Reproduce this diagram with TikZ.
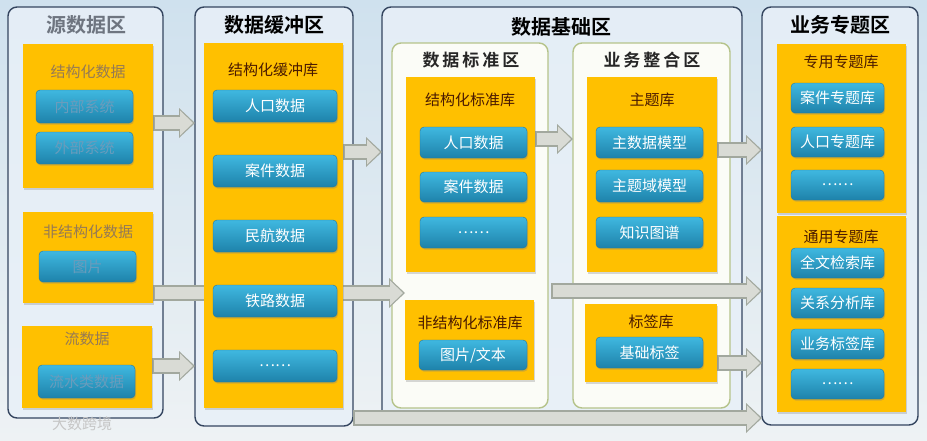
\documentclass[tikz,border=0pt]{standalone}
\usepackage{fontspec}
\setmainfont{Noto Sans CJK SC}[BoldFont={Noto Sans CJK SC Bold}]
\usetikzlibrary{arrows.meta,shadows}
\definecolor{bgtop}{HTML}{CFE1EE}
\definecolor{bgbot}{HTML}{EEF2F4}
\definecolor{zoneline}{HTML}{34455F}
\definecolor{zonefill}{HTML}{E8F0F8}
\definecolor{subline}{HTML}{B5C38A}
\definecolor{subfill}{HTML}{FBFCF7}
\definecolor{yel}{HTML}{FFC000}
\definecolor{ytext}{HTML}{4A1A00}
\definecolor{ytextfaint}{HTML}{957A55}
\definecolor{btntop}{HTML}{3FB8E0}
\definecolor{btnbot}{HTML}{1E82AA}
\definecolor{btnline}{HTML}{2277A0}
\definecolor{btnfaint}{HTML}{6A9CBC}
\definecolor{arrfill}{HTML}{D9DBD5}
\definecolor{arredge}{HTML}{A2A89E}
\definecolor{ztfaint}{HTML}{6E7580}
\pgfdeclarelayer{bg}
\pgfdeclarelayer{arr}
\pgfsetlayers{bg,arr,main}
\newcommand\bx[7]{%
  \pgfmathsetmacro\bxw{#5-#3}\pgfmathsetmacro\bxh{#6-#4}%
  \node[#1,anchor=north west,minimum width=\bxw pt,minimum height=\bxh pt] (#2) at (#3,#4) {#7};}
\begin{document}
\begin{tikzpicture}[x=1pt,y=-1pt,
  zone/.style={draw=zoneline,line width=1.4pt,rounded corners=9pt,fill=zonefill,fill opacity=0.85,inner sep=0pt,outer sep=0pt},
  subzone/.style={draw=subline,line width=1.4pt,rounded corners=9pt,fill=subfill,inner sep=0pt,outer sep=0pt},
  ybox/.style={fill=yel,inner sep=0pt,outer sep=0pt,drop shadow={opacity=0.3,shadow xshift=1.2pt,shadow yshift=-1.6pt}},
  btn/.style={rounded corners=4pt,top color=btntop,bottom color=btnbot,draw=btnline,line width=0.4pt,text=white,
    font=\fontsize{15}{15}\selectfont,inner sep=0pt,outer sep=0pt,drop shadow={opacity=0.35,shadow xshift=1pt,shadow yshift=-1.6pt}},
  btnf/.style={btn,text=btnfaint},
  ztitle/.style={font=\bfseries\fontsize{20}{20}\selectfont,text=black,inner sep=0pt},
  stitle/.style={font=\bfseries\fontsize{17}{17}\selectfont,text=black!85,inner sep=0pt},
  ytitle/.style={font=\fontsize{15}{15}\selectfont,text=ytext,inner sep=0pt},
  ytitlef/.style={ytitle,text=ytextfaint},
  blk/.style={line width=16pt,draw=arredge,-{Triangle[width=30pt,length=16pt,line width=0pt]},
    postaction={draw=arrfill,line width=12.5pt,-{Triangle[width=25pt,length=13pt,line width=0pt]},shorten >=2pt,shorten <=1.6pt}}
]
\useasboundingbox (0,0) rectangle (927,440);
\begin{pgfonlayer}{bg}
  \fill[top color=bgtop,bottom color=bgbot] (0,0) rectangle (927,440);
  \bx{zone}{z1}{8}{7}{163}{418}{}
  \bx{zone}{z2}{195}{7}{353}{426}{}
  \bx{zone}{z3}{382}{7}{742}{424}{}
  \bx{zone}{z4}{762}{7}{918}{425}{}
  \bx{subzone}{s1}{392}{43}{548}{408}{}
  \bx{subzone}{s2}{573}{43}{730}{408}{}
\end{pgfonlayer}

% zone titles
\node[ztitle,text=ztfaint] (t1) at (86,25) {源数据区};
\node[ztitle] (t2) at (274,25) {数据缓冲区};
\node[ztitle] (t3) at (561,27) {数据基础区};
\node[ztitle] (t4) at (840,25) {业务专题区};
\node[stitle] (st1) at (471,60) {数\hspace{3pt}据\hspace{3pt}标\hspace{3pt}准\hspace{3pt}区};
\node[stitle] (st2) at (652,60) {业\hspace{3pt}务\hspace{3pt}整\hspace{3pt}合\hspace{3pt}区};

% zone 1
\bx{ybox}{y11}{23}{44}{153}{188}{}
\bx{ybox}{y12}{23}{212}{153}{303}{}
\bx{ybox}{y13}{22}{326}{152}{408}{}
\node[ytitlef] (ty11) at (88,72) {结构化数据};
\node[ytitlef] (ty12) at (88,232) {非结构化数据};
\node[ytitlef] (ty13) at (87,339) {流数据};
\bx{btnf}{b11}{36}{90}{133}{123}{内部系统}
\bx{btnf}{b12}{36}{132}{133}{164}{外部系统}
\bx{btnf}{b13}{39}{251}{136}{282}{图片}
\bx{btnf}{b14}{38}{365}{135}{398}{流水类数据}

% zone 2
\bx{ybox}{y21}{204}{43}{343}{408}{}
\node[ytitle] (ty21) at (273,70) {结构化缓冲库};
\bx{btn}{b21}{213}{90}{337}{122}{人口数据}
\bx{btn}{b22}{213}{155}{337}{187}{案件数据}
\bx{btn}{b23}{213}{220}{337}{252}{民航数据}
\bx{btn}{b24}{213}{285}{337}{317}{铁路数据}
\bx{btn}{b25}{213}{350}{337}{382}{……}

% zone 3
\bx{ybox}{y31}{406}{77}{535}{272}{}
\bx{ybox}{y32}{405}{300}{534}{380}{}
\bx{ybox}{y33}{587}{77}{717}{272}{}
\bx{ybox}{y34}{585}{304}{717}{382}{}
\node[ytitle] (ty31) at (470,100) {结构化标准库};
\node[ytitle] (ty32) at (470,323) {非结构化标准库};
\node[ytitle] (ty33) at (652,100) {主题库};
\node[ytitle] (ty34) at (651,322) {标签库};
\bx{btn}{b31}{420}{127}{527}{158}{人口数据}
\bx{btn}{b32}{420}{172}{527}{202}{案件数据}
\bx{btn}{b33}{420}{217}{527}{248}{……}
\bx{btn}{b34}{419}{340}{527}{370}{图片/文本}
\bx{btn}{b35}{596}{127}{703}{158}{主数据模型}
\bx{btn}{b36}{596}{170}{703}{202}{主题域模型}
\bx{btn}{b37}{596}{217}{703}{248}{知识图谱}
\bx{btn}{b38}{596}{337}{703}{368}{基础标签}

% zone 4
\bx{ybox}{y41}{777}{44}{906}{213}{}
\bx{ybox}{y42}{777}{216}{906}{412}{}
\node[ytitle] (ty41) at (841,62) {专用专题库};
\node[ytitle] (ty42) at (841,237) {通用专题库};
\bx{btn}{b41}{791}{83}{884}{113}{案件专题库}
\bx{btn}{b42}{791}{127}{884}{157}{人口专题库}
\bx{btn}{b43}{791}{170}{884}{200}{……}
\bx{btn}{b44}{791}{248}{884}{278}{全文检索库}
\bx{btn}{b45}{791}{288}{884}{318}{关系分析库}
\bx{btn}{b46}{791}{329}{884}{359}{业务标签库}
\bx{btn}{b47}{791}{369}{884}{399}{……}

% arrows
\begin{pgfonlayer}{arr}
  \draw[blk] (y11.east |- 0,123) -- (z2.west |- 0,123);
  \draw[blk] (y12.east |- 0,293) -- (y32.west |- 0,293);
  \draw[blk] (y13.east |- 0,366) -- (z2.west |- 0,366);
  \draw[blk] (y21.east |- 0,152) -- (z3.west |- 0,152);
  \draw[blk] (y31.east |- 0,139) -- (s2.west |- 0,139);
  \draw[blk] (y33.east |- 0,150) -- (z4.west |- 0,150);
  \draw[blk] ([xshift=3pt]s1.east |- 0,291) -- (z4.west |- 0,291);
  \draw[blk] (y34.east |- 0,363) -- (z4.west |- 0,363);
\end{pgfonlayer}
\draw[blk] (z2.east |- 0,418) -- (z4.west |- 0,418);

% watermark
\node[font=\fontsize{15}{15}\selectfont,text=gray!45,inner sep=0pt] (wm) at (82,424) {大数跨境};
\end{tikzpicture}
\end{document}
